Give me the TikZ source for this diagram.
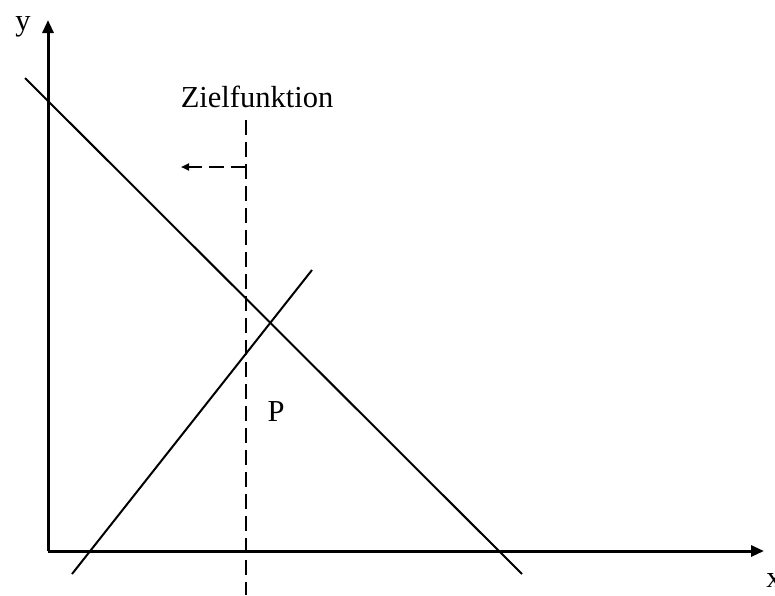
\documentclass[tikz,border=0pt]{standalone}
\usepackage{fontspec}
\setmainfont{Liberation Serif}
\usetikzlibrary{arrows.meta}
\begin{document}
\begin{tikzpicture}[x=1pt,y=-1pt,
  axis/.style={line width=3pt,-{Triangle[length=13pt,width=11pt]}},
  cline/.style={line width=2pt},
  zfline/.style={line width=2pt,dash pattern=on 15pt off 7pt},
  lbl/.style={font=\fontsize{30.5}{34}\selectfont,inner sep=0pt}]
\useasboundingbox (0,0) rectangle (775,595);
\coordinate (O) at (48,551);
\coordinate (Ytip) at (48,20);
\coordinate (Xtip) at (764,551);
\draw[axis] (O) -- (Ytip);
\draw[axis] (O) -- (Xtip);
\node[lbl] (ylab) at (23,27) {y};
\node[lbl] (xlab) at (774,580) {x};
\coordinate (A1) at (25,78);
\coordinate (A2) at (522,574);
\coordinate (B1) at (72,574);
\coordinate (B2) at (312,270);
\draw[cline] (A1) -- (A2);
\draw[cline] (B1) -- (B2);
\coordinate (Ztop) at (246,120);
\coordinate (Zbot) at (246,595);
\coordinate (Zmid) at (246,167);
\coordinate (Zarr) at (181,167);
\draw[zfline] (Ztop) -- (Zbot);
\draw[zfline,-{Triangle[length=8pt,width=7pt]}] (Zmid) -- (Zarr);
\node[lbl] (zf) at (257,97) {Zielfunktion};
\node[lbl] (P) at (276,412) {P};
\end{tikzpicture}
\end{document}
